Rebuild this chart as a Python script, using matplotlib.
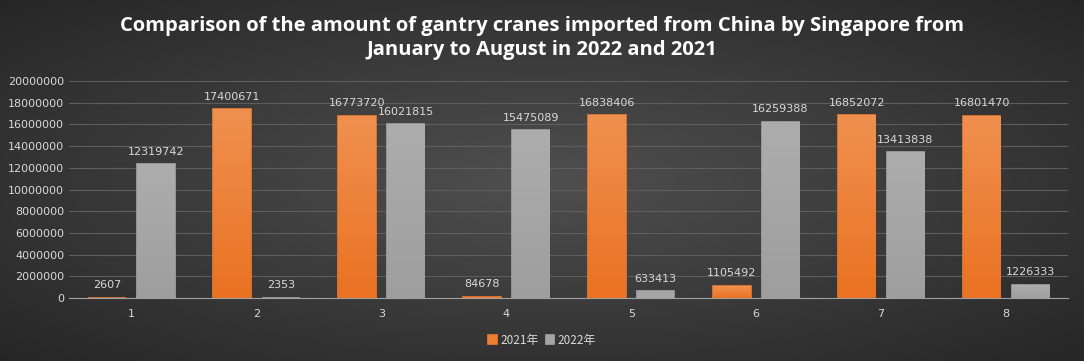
import matplotlib.pyplot as plt
import numpy as np

# data
months = ['1', '2', '3', '4', '5', '6', '7', '8']
y2021 = [2607, 17400671, 16773720, 84678, 16838406, 1105492, 16852072, 16801470]
y2022 = [12319742, 2353, 16021815, 15475089, 633413, 16259388, 13413838, 1226333]
yticks = list(range(0, 20000001, 2000000))

fig = plt.figure(figsize=(10.84, 3.61), dpi=100)

# radial dark grey background, lighter in the middle
bg = fig.add_axes([0, 0, 1, 1], zorder=-10)
yy, xx = np.mgrid[-1:1:200j, -1:1:400j]
r = np.sqrt(xx**2 + yy**2) / np.sqrt(2)
lum = 0.31 - 0.16 * r
bg.imshow(np.dstack([lum, lum, lum]), aspect='auto', extent=[0, 1, 0, 1])
bg.set_axis_off()

ax = fig.add_axes([0.0637, 0.1745, 0.922, 0.601])
ax.patch.set_alpha(0)

x = np.arange(len(months))
w = 0.30
off = 0.195
b1 = ax.bar(x - off, y2021, w, color='#ED7D31', edgecolor='#ED7D31', linewidth=1.2,
            label='2021年', zorder=2)
b2 = ax.bar(x + off, y2022, w, color='#A5A5A5', edgecolor='#A5A5A5', linewidth=1.2,
            label='2022年', zorder=2)

# vertical gradient on each bar, lighter at the top
def shade(bars, top, bottom):
    grad = np.linspace(0, 1, 100).reshape(-1, 1)
    cmap = plt.matplotlib.colors.LinearSegmentedColormap.from_list('g', [bottom, top])
    for b in bars:
        x0, y0 = b.get_x(), b.get_y()
        h = b.get_height()
        if h < 1000000:
            continue
        im = ax.imshow(grad, cmap=cmap, aspect='auto', origin='lower',
                       extent=[x0, x0 + b.get_width(), y0, y0 + h], zorder=3)
        im.set_clip_path(b)

shade(b1, '#F0904F', '#EA7222')
shade(b2, '#ADADAD', '#9E9E9E')

for xi, v in zip(x - off, y2021):
    ax.text(xi, v + 700000, str(v), ha='center', va='bottom', fontsize=8, color='#D9D9D9', zorder=4)
for xi, v in zip(x + off, y2022):
    ax.text(xi, v + 700000, str(v), ha='center', va='bottom', fontsize=8, color='#D9D9D9', zorder=4)

ax.set_xlim(-0.5, len(months) - 0.5)
ax.set_ylim(0, 20000000)
ax.set_yticks(yticks)
ax.set_yticklabels([str(t) for t in yticks])
ax.set_xticks(x)
ax.set_xticklabels(months)
ax.tick_params(length=0, colors='#D9D9D9', labelsize=8)
ax.tick_params(axis='x', pad=8)
ax.grid(axis='y', color='#5E5E5E', linewidth=0.8, zorder=0)
for s in ['top', 'right', 'left']:
    ax.spines[s].set_visible(False)
ax.spines['bottom'].set_color('#A0A0A0')

fig.text(0.5, 0.895, 'Comparison of the amount of gantry cranes imported from China by Singapore from\nJanuary to August in 2022 and 2021',
         ha='center', va='center', fontsize=14.5, fontweight='bold', color='white',
         family=['Open Sans', 'DejaVu Sans'], linespacing=1.3)

leg = fig.legend(handles=[b1, b2], loc='center', bbox_to_anchor=(0.5, 0.058), ncol=2,
                 frameon=False, handlelength=0.7, handleheight=0.7,
                 handletextpad=0.3, columnspacing=0.6,
                 prop={'family': ['Noto Sans CJK SC', 'DejaVu Sans'], 'size': 8.5})
for t in leg.get_texts():
    t.set_color('#D9D9D9')

fig.savefig('out.png', dpi=100)
